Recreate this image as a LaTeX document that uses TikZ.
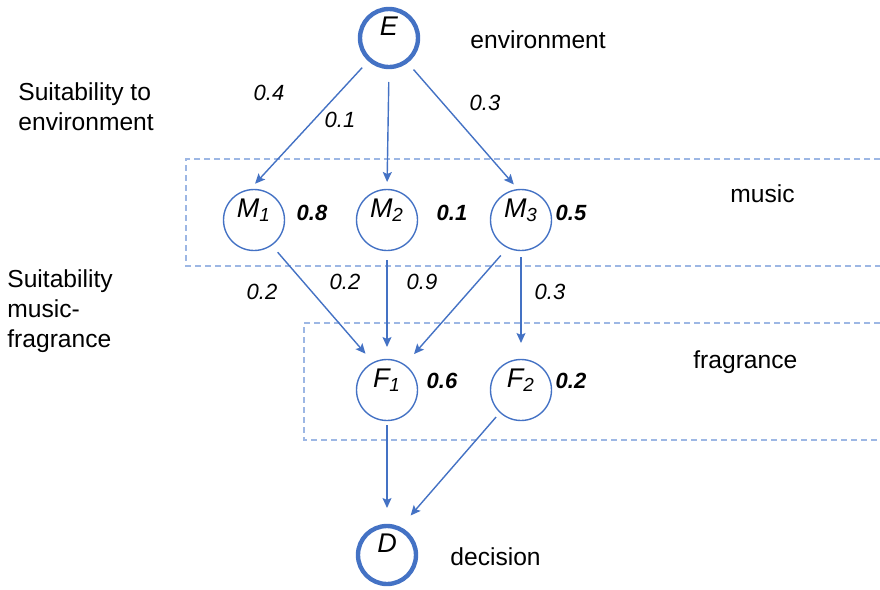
\documentclass[tikz,border=0pt]{standalone}
\usepackage{fontspec}
\setmainfont{Liberation Sans}
\usetikzlibrary{arrows.meta, positioning, calc}

\definecolor{netblue}{HTML}{4472C4}
\definecolor{layerblue}{HTML}{9DB7E4}

\begin{document}
\begin{tikzpicture}[
    x=0.5pt, y=-0.5pt,
    >={Stealth[length=5pt, width=4.5pt, inset=1pt]},
    % Define the node styles from the diagram
    var_node/.style={circle, draw=netblue, line width=0.7pt, minimum size=30.5pt, inner sep=0pt,
        text height=9pt, text depth=12pt, font=\fontsize{13.5}{16}\selectfont\itshape},
    end_node/.style={var_node, line width=2.2pt, minimum size=29pt},
    link/.style={->, draw=netblue, line width=0.7pt},
    layer/.style={draw=layerblue, line width=0.7pt, dash pattern=on 3pt off 2pt},
    lbl/.style={font=\fontsize{12.3}{15}\selectfont, inner sep=0pt, anchor=base west},
    w_lbl/.style={font=\fontsize{11}{13}\selectfont\itshape, inner sep=0pt},
    p_lbl/.style={font=\fontsize{11}{13}\selectfont\bfseries\itshape, inner sep=0pt}
]
    \useasboundingbox (0,0) rectangle (880,590);

    % --- Dashed layer boxes (open to the right) ---
    \draw[layer] (880,159) -- (186,159) -- (186,266) -- (880,266);
    \draw[layer] (880,323) -- (304,323) -- (304,440) -- (880,440);

    % --- Environment and decision ---
    \node[end_node] (E) at (389,38) {E};
    \node[end_node] (D) at (387,555) {D};

    % --- Music row ---
    \foreach \i/\x/\px/\p in {1/254/312/0.8, 2/387/452/0.1, 3/521/571/0.5} {
        \node[var_node] (M\i) at (\x,220) {M\textsubscript{\i}};
        \node[p_lbl] (pM\i) at (\px,213) {\p};
    }

    % --- Fragrance row ---
    \foreach \i/\x/\px/\p in {1/387/442/0.6, 2/521/571/0.2} {
        \node[var_node] (F\i) at (\x,390) {F\textsubscript{\i}};
        \node[p_lbl] (pF\i) at (\px,381) {\p};
    }

    % --- Layer names ---
    \node[lbl] (env_txt) at (470,48) {environment};
    \node[lbl] (mus_txt) at (730,202) {music};
    \node[lbl] (fra_txt) at (693,368) {fragrance};
    \node[lbl] (dec_txt) at (450,565) {decision};

    % --- Captions on the left (base = last line) ---
    \node[lbl, align=left] (suit_env) at (18,130) {Suitability to\\environment};
    \node[lbl, align=left] (suit_mf) at (7,347) {Suitability\\music-\\fragrance};

    % --- Environment -> music ---
    \draw[link, shorten <=4.4pt, shorten >=3.6pt] (E.228) -- (M1.97);
    \draw[link, shorten <=6.4pt, shorten >=3.4pt] (E.south) -- (M2.north);
    \draw[link, shorten <=4.4pt, shorten >=3pt] (E.307) -- (M3.96);
    \node[w_lbl] (w_e1) at (269,93) {0.4};
    \node[w_lbl] (w_e2) at (340,120) {0.1};
    \node[w_lbl] (w_e3) at (485,103) {0.3};

    % --- Music -> fragrance ---
    \draw[link, shorten <=4.4pt, shorten >=5.6pt] (M1.305) -- (F1.117);
    \draw[link, shorten <=4.4pt, shorten >=5.9pt] (M2.south) -- (F1.north);
    \draw[link, shorten <=4.9pt, shorten >=6.9pt] (M3.244) -- (F1.55);
    \draw[link, shorten <=2.9pt, shorten >=7.9pt] (M3.south) -- (F2.north);
    \node[w_lbl] (w_m1) at (262,292) {0.2};
    \node[w_lbl] (w_m2) at (345,282) {0.2};
    \node[w_lbl] (w_m3) at (422,282) {0.9};
    \node[w_lbl] (w_m4) at (550,292) {0.3};

    % --- Fragrance -> decision ---
    \draw[link, shorten <=1.9pt, shorten >=7.9pt] (F1.south) -- (D.north);
    \draw[link, shorten <=2.8pt, shorten >=7.6pt] (F2.227) -- (D.64);

\end{tikzpicture}
\end{document}
